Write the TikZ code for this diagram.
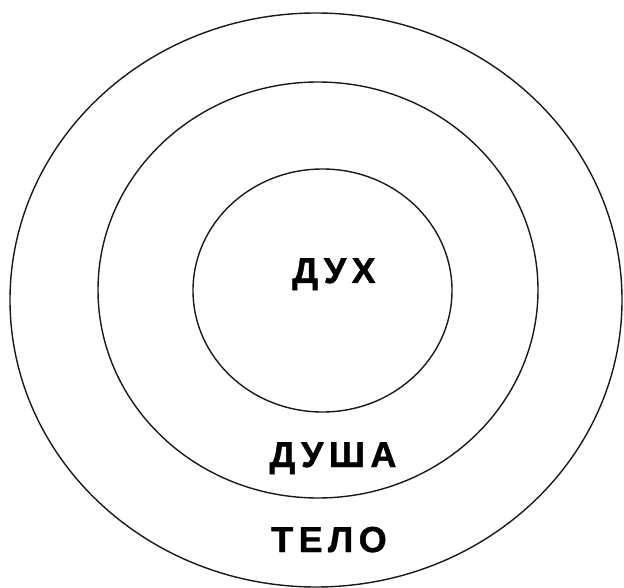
\documentclass[tikz,border=0pt]{standalone}
\usepackage{fontspec}
\newfontfamily\labelfont[LetterSpace=15,FakeBold=1.2]{Liberation Sans}
\tikzset{
  ring/.style={draw=black!90, line width=1.4pt},
  word/.style={font=\labelfont\fontsize{36}{40}\selectfont\bfseries, inner sep=0pt, anchor=base}
}
\begin{document}
\begin{tikzpicture}[x=1pt,y=-1pt]
  \useasboundingbox (0,0) rectangle (624,588);
  % three rings
  \foreach \cx/\cy/\rx/\ry in {316/300/306/287, 318/290/220/208, 322.5/290.5/129.5/121.5}
    \draw[ring] (\cx,\cy) ellipse ({\rx} and {\ry});
  \node[word] (spirit) at (334,283) {ДУХ};
  \node[word] (soul) at (333,467) {ДУША};
  \node[word] (body) at (329,552) {ТЕЛО};
\end{tikzpicture}
\end{document}
